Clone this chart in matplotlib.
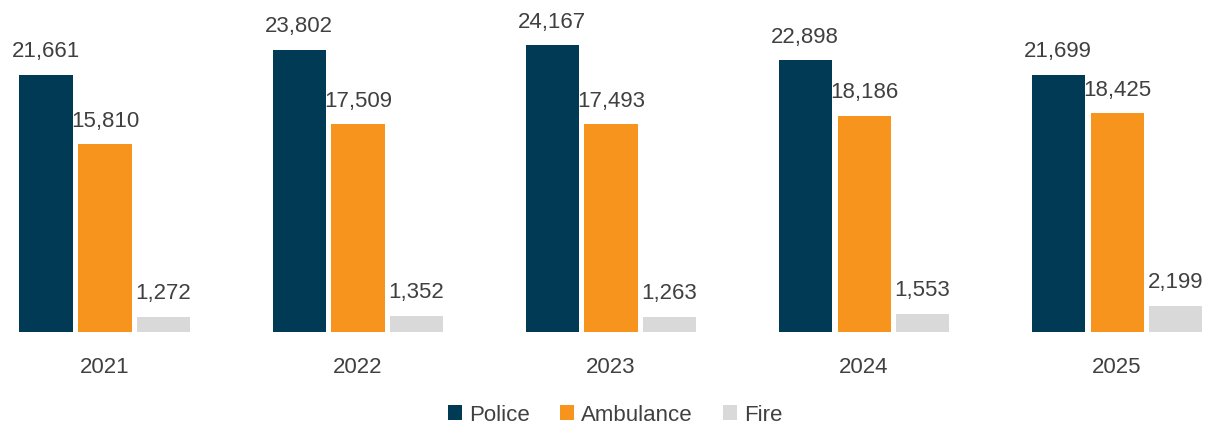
import numpy as np
import matplotlib
matplotlib.use("Agg")
import matplotlib.pyplot as plt

years = ["2021", "2022", "2023", "2024", "2025"]
police = [21661, 23802, 24167, 22898, 21699]
ambulance = [15810, 17509, 17493, 18186, 18425]
fire = [1272, 1352, 1263, 1553, 2199]

series = [("Police", police, "#003A55"),
          ("Ambulance", ambulance, "#F7941D"),
          ("Fire", fire, "#D9D9D9")]

plt.rcParams["font.family"] = ["Liberation Sans", "DejaVu Sans"]
text_color = "#404040"

fig = plt.figure(figsize=(12.13, 4.27), dpi=100)
ax = fig.add_axes([0, 94 / 427, 1, 333 / 427])

x = np.arange(len(years))
width = 0.21
offsets = [-0.233, 0.0, 0.231]

for (name, vals, color), off in zip(series, offsets):
    bars = ax.bar(x + off, vals, width, color=color, label=name)
    for b, v in zip(bars, vals):
        ax.annotate(f"{v:,}", (b.get_x() + b.get_width() / 2, v),
                    xytext=(0, 13.5), textcoords="offset points",
                    ha="center", va="baseline", fontsize=16, color=text_color)

ax.set_xlim(-0.415, 4.379)
ax.set_ylim(0, 28066)
ax.set_xticks(x, years)
ax.tick_params(axis="x", length=0, pad=17.5, labelsize=16, labelcolor=text_color)
ax.set_yticks([])
for s in ax.spines.values():
    s.set_visible(False)

fig.legend(loc="center", bbox_to_anchor=(615 / 1213, 1 - 416 / 427),
           ncol=3, frameon=False, fontsize=16, labelcolor=text_color,
           handlelength=0.65, handleheight=0.65, handletextpad=0.3,
           columnspacing=1.35, borderpad=0)

fig.savefig("out.png", dpi=100)
